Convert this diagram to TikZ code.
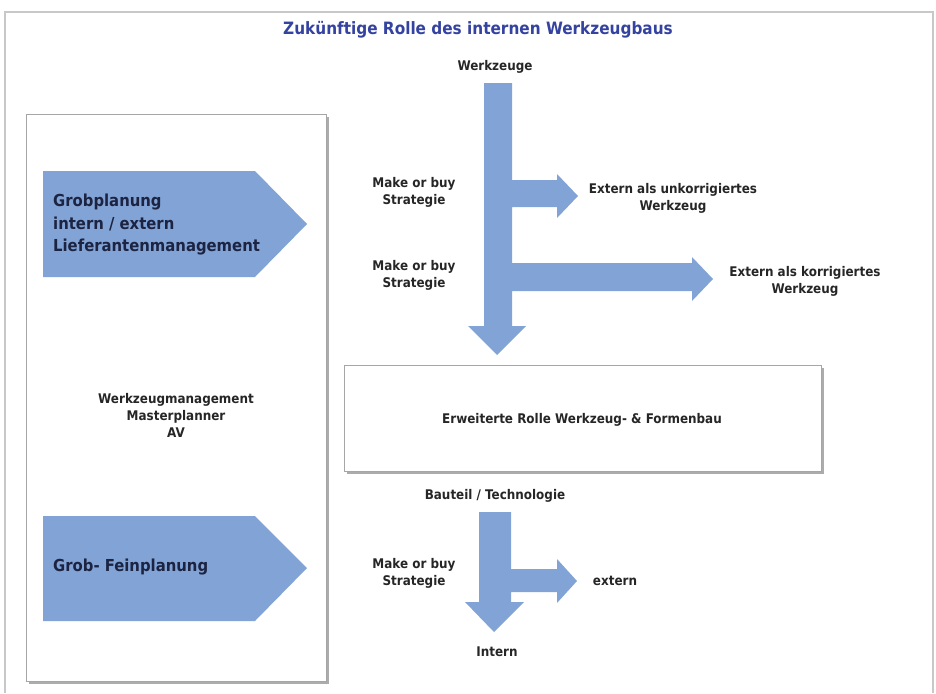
\documentclass[tikz,border=0pt]{standalone}
\usepackage{fontspec}
\setmainfont{DejaVu Sans Condensed}
\definecolor{arrowblue}{RGB}{130,163,214}
\definecolor{titleblue}{RGB}{52,66,160}
\definecolor{navy}{RGB}{28,36,66}
\definecolor{frame}{RGB}{200,200,200}
\begin{document}
\begin{tikzpicture}[x=1pt,y=-1pt,
  lbl/.style={font=\bfseries\fontsize{13.3}{17}\selectfont, align=center, text=black!85, inner sep=0pt},
  big/.style={font=\bfseries\fontsize{16.5}{22.5}\selectfont, align=left, text=navy, inner sep=0pt},
  blockarrow/.style={fill=arrowblue, draw=none},
  panel/.style={fill=white, draw=gray!70, line width=0.8pt},
  shadowbox/.style={fill=gray!65, draw=none}]
\useasboundingbox (0,0) rectangle (936,693);
% outer frame
\draw[frame, line width=1.2pt] (5,693) -- (5,12) -- (933,12) -- (933,693);
% title
\node[font=\bfseries\fontsize{17}{20}\selectfont, text=titleblue] (title) at (478,30) {Zukünftige Rolle des internen Werkzeugbaus};
% left panel
\fill[shadowbox] (29,117) rectangle (329,684);
\draw[panel] (26,114) rectangle (326,681);
% pentagon arrows
\fill[blockarrow] (43,171) -- (255,171) -- (307,224) -- (255,277) -- (43,277) -- cycle;
\node[big, anchor=west] (grob) at (53,225) {Grobplanung\\intern / extern\\Lieferantenmanagement};
\fill[blockarrow] (43,516) -- (255,516) -- (307,568) -- (255,621) -- (43,621) -- cycle;
\node[big, anchor=west] (fein) at (53,567) {Grob- Feinplanung};
\node[lbl] (wm) at (176,415) {Werkzeugmanagement\\Masterplanner\\AV};
% middle box
\fill[shadowbox] (347,368) rectangle (824,474);
\draw[panel] (344,365) rectangle (821,471);
\node[lbl] (erw) at (582,420) {Erweiterte Rolle Werkzeug- \& Formenbau};
% main T arrow
\fill[blockarrow] (484,83) -- (512,83) -- (512,180) -- (557,180) -- (557,174) -- (578,196) -- (557,218) -- (557,207)
  -- (512,207) -- (512,263) -- (692,263) -- (692,257) -- (713,279) -- (692,301) -- (692,291) -- (512,291)
  -- (512,326) -- (526,326) -- (497,355) -- (468,326) -- (484,326) -- cycle;
\node[lbl] (wz) at (495,67) {Werkzeuge};
\node[lbl] (mb1) at (414,192) {Make or buy\\Strategie};
\node[lbl] (mb2) at (414,275) {Make or buy\\Strategie};
\node[lbl] (ext1) at (673,198) {Extern als unkorrigiertes\\Werkzeug};
\node[lbl] (ext2) at (805,281) {Extern als korrigiertes\\Werkzeug};
% bottom arrow
\fill[blockarrow] (479,512) -- (511,512) -- (511,569) -- (557,569) -- (557,559) -- (577,581) -- (557,603) -- (557,592)
  -- (511,592) -- (511,602) -- (524,602) -- (494,632) -- (465,602) -- (479,602) -- cycle;
\node[lbl] (bt) at (495,496) {Bauteil / Technologie};
\node[lbl] (mb3) at (414,573) {Make or buy\\Strategie};
\node[lbl] (ex) at (615,581) {extern};
\node[lbl] (in) at (497,652) {Intern};
\end{tikzpicture}
\end{document}
